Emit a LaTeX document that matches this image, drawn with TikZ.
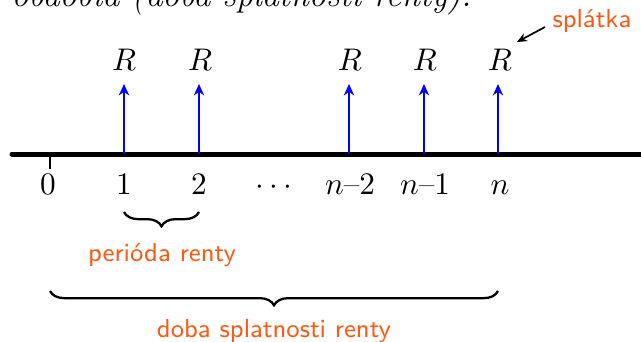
\documentclass[tikz,border=0pt]{standalone}
\usetikzlibrary{arrows.meta,decorations.pathreplacing}
\definecolor{accent}{RGB}{250,90,20}
\begin{document}
\begin{tikzpicture}[x=0.35pt,y=-0.35pt,
  lbl/.style={font=\fontsize{10.9}{13}\selectfont, inner sep=0pt},
  note/.style={font=\sffamily\fontsize{9.1}{11}\selectfont, text=accent, inner sep=0pt},
  pay/.style={blue, line width=0.85pt, -{Stealth[length=4pt,width=3.6pt]}},
  brc/.style={decorate, decoration={brace, mirror, amplitude=5pt}, line width=0.8pt},
  axisline/.style={line width=1.75pt, line cap=round}]
\useasboundingbox (0,0) rectangle (641,341);
\begin{scope}
  \clip (0,0) rectangle (641,341);
  \node[inner sep=0pt, font=\itshape\fontsize{12}{14}\selectfont, anchor=base east] (top) at (472,6) {obdobia (doba splatnosti renty).};
  % axis
  \coordinate (L) at (12,154);
  \coordinate (E) at (660,154);
  \draw[axisline] (L) -- (E);
\end{scope}
% points on the axis
\coordinate (p0) at (50,154);
\coordinate (p1) at (124,154);
\coordinate (p2) at (199,154);
\coordinate (p3) at (349,154);
\coordinate (p4) at (424,154);
\coordinate (p5) at (498,154);
\coordinate (p0t) at (50,169);
\draw[line width=0.4pt] (p0) -- (p0t);
% payments
\foreach \i/\x in {1/124,2/199,3/349,4/424,5/498}{
  \coordinate (a\i) at (\x,84);
  \draw[pay] (p\i) -- (a\i);
}
\node[lbl] (r1) at (124,60) {$R$};
\node[lbl] (r2) at (200,60) {$R$};
\node[lbl] (r3) at (350,60) {$R$};
\node[lbl] (r4) at (425,60) {$R$};
\node[lbl] (r5) at (500,60) {$R$};
% tick labels
\node[lbl, anchor=base] (n0) at (48,194) {$0$};
\node[lbl, anchor=base] (n1) at (124,194) {$1$};
\node[lbl, anchor=base] (n2) at (199,194) {$2$};
\node[lbl, anchor=base] (nd) at (274,194) {$\cdots$};
\node[lbl, anchor=base] (n3) at (350,194) {$n$--$2$};
\node[lbl, anchor=base] (n4) at (425,194) {$n$--$1$};
\node[lbl, anchor=base] (n5) at (500,194) {$n$};
% braces
\coordinate (b1s) at (124,212);
\coordinate (b1e) at (199,212);
\draw[brc] (b1s) -- (b1e);
\node[note, anchor=base] (per) at (162,261) {perióda renty};
\coordinate (b2s) at (50,291);
\coordinate (b2e) at (498,291);
\draw[brc] (b2s) -- (b2e);
\node[note, anchor=base] (doba) at (274,337) {doba splatnosti renty};
% splatka
\node[note, anchor=base west] (spl) at (552,27) {splátka};
\coordinate (sa) at (517,42);
\draw[line width=0.6pt, -{Stealth[length=3.5pt,width=3pt]}] (545,27) -- (sa);
\end{tikzpicture}
\end{document}
